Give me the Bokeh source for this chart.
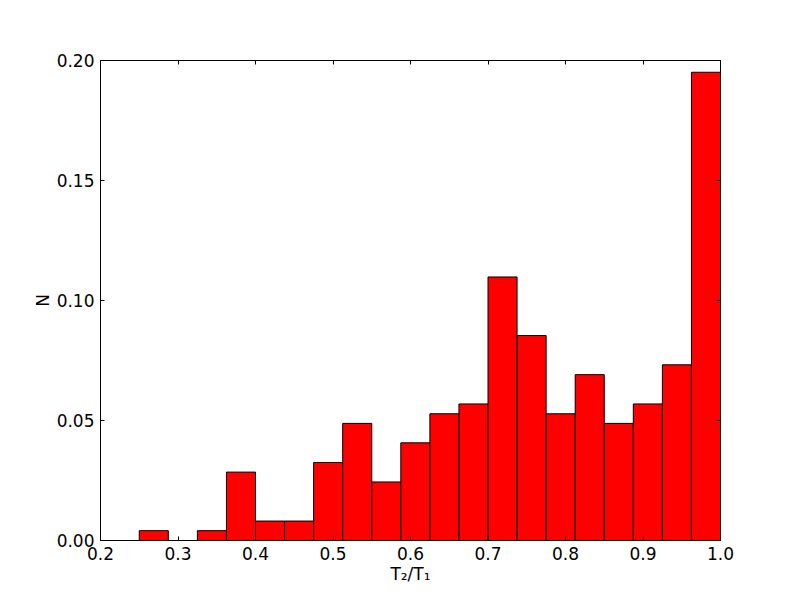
from bokeh.plotting import figure
from bokeh.models import LinearAxis, FixedTicker, NumeralTickFormatter, Range1d
from bokeh.embed import file_html
from bokeh.resources import INLINE

bin_left = [0.25, 0.2875, 0.325, 0.3625, 0.4, 0.4375, 0.475, 0.5125, 0.55, 0.5875,
            0.625, 0.6625, 0.7, 0.7375, 0.775, 0.8125, 0.85, 0.8875, 0.925, 0.9625]
bin_right = [0.2875, 0.325, 0.3625, 0.4, 0.4375, 0.475, 0.5125, 0.55, 0.5875, 0.625,
             0.6625, 0.7, 0.7375, 0.775, 0.8125, 0.85, 0.8875, 0.925, 0.9625, 1.0]
freq = [0.0041, 0.0, 0.0041, 0.0285, 0.0081, 0.0081, 0.0325, 0.0488, 0.0244, 0.0407,
        0.0528, 0.0569, 0.1098, 0.0854, 0.0528, 0.0691, 0.0488, 0.0569, 0.0732, 0.1951]
x_ticks = [0.2, 0.3, 0.4, 0.5, 0.6, 0.7, 0.8, 0.9, 1.0]
y_ticks = [0.0, 0.05, 0.10, 0.15, 0.20]

FONT = "DejaVu Sans"
FS = "17px"

p = figure(width=784, height=584, frame_width=620, frame_height=480,
           x_range=Range1d(0.2, 1.0), y_range=Range1d(0.0, 0.20),
           output_backend="svg", toolbar_location=None,
           min_border_left=100, min_border_right=64, min_border_top=60, min_border_bottom=44)
p.xgrid.visible = False
p.ygrid.visible = False
p.outline_line_color = "black"
p.outline_line_width = 1
p.background_fill_color = "white"
p.border_fill_color = "white"

p.quad(left=bin_left, right=bin_right, bottom=0, top=freq,
       fill_color="#ff0000", line_color="black", line_width=1)

for ax, ticks, fmt in ((p.xaxis[0], x_ticks, "0.0"), (p.yaxis[0], y_ticks, "0.00")):
    ax.ticker = FixedTicker(ticks=ticks)
    ax.formatter = NumeralTickFormatter(format=fmt)
    ax.major_tick_in = 4
    ax.major_tick_out = 0
    ax.minor_tick_line_color = None
    ax.axis_line_color = "black"
    ax.major_tick_line_color = "black"
    ax.major_label_text_font = FONT
    ax.major_label_text_font_size = FS
    ax.major_label_text_color = "black"
    ax.axis_label_text_font = FONT
    ax.axis_label_text_font_size = FS
    ax.axis_label_text_font_style = "normal"
    ax.axis_label_text_color = "black"

p.xaxis[0].axis_label = "T\u2082/T\u2081"
p.xaxis[0].major_label_standoff = 6
p.xaxis[0].axis_label_standoff = 1
p.yaxis[0].axis_label = "N"
p.yaxis[0].major_label_standoff = 6
p.yaxis[0].axis_label_standoff = 1

top = LinearAxis(ticker=FixedTicker(ticks=x_ticks), major_label_text_font_size="0px",
                 major_tick_in=4, major_tick_out=0, minor_tick_line_color=None,
                 axis_line_color="black", major_tick_line_color="black",
                 major_label_text_color=None)
right = LinearAxis(ticker=FixedTicker(ticks=y_ticks), major_label_text_font_size="0px",
                   major_tick_in=4, major_tick_out=0, minor_tick_line_color=None,
                   axis_line_color="black", major_tick_line_color="black",
                   major_label_text_color=None)
p.add_layout(top, "above")
p.add_layout(right, "right")

open("out.html", "w").write(file_html(p, INLINE))
